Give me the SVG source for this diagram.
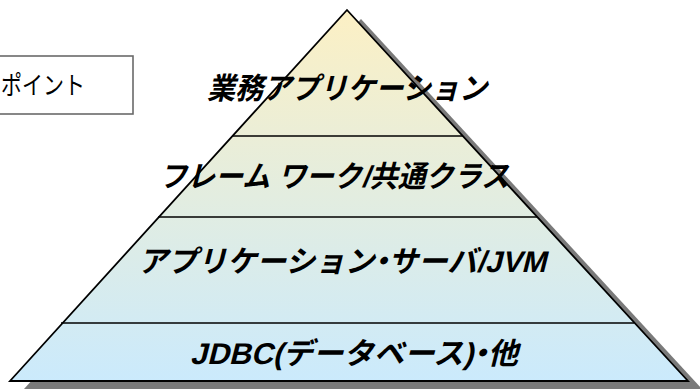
<svg xmlns="http://www.w3.org/2000/svg" width="700" height="389" viewBox="0 0 700 389">
  <defs>
    <linearGradient id="pyr" gradientUnits="userSpaceOnUse" x1="0" y1="10" x2="0" y2="381">
      <stop offset="0" stop-color="#FCF0C4"/>
      <stop offset="0.5" stop-color="#E3EDE0"/>
      <stop offset="1" stop-color="#CBEAFC"/>
    </linearGradient>
    <filter id="blur" x="-5%" y="-5%" width="110%" height="110%">
      <feGaussianBlur stdDeviation="0.7"/>
    </filter>
  </defs>
  <style>
    .lbl { font-family: "Liberation Sans", "Noto Sans CJK JP", sans-serif; font-weight: bold; font-size: 30px; fill: #000; }
    .pt { font-family: "Noto Sans CJK JP", sans-serif; font-size: 25px; fill: #000; }
    .band { stroke: #000; stroke-width: 1.6; fill: none; }
  </style>
  <rect width="700" height="389" fill="#fff"/>

  <g id="point-box">
    <rect x="-5" y="56" width="138" height="58" fill="#fff" stroke="#6a6a6a" stroke-width="1.6"/>
    <text class="pt" x="1" y="94" textLength="84" lengthAdjust="spacingAndGlyphs">ポイント</text>
  </g>

  <g id="pyramid">
    <polygon points="361,19 702,389 24,389" fill="#7a7a7a" filter="url(#blur)"/>
    <polygon points="347,10 688,381 10,381" fill="url(#pyr)" stroke="#000" stroke-width="1.8" stroke-linejoin="miter"/>
  </g>

  <g id="connectors">
    <line class="band" x1="232" y1="136" x2="463" y2="136"/>
    <line class="band" x1="158" y1="217" x2="537" y2="217"/>
    <line class="band" x1="61" y1="323" x2="634" y2="323"/>
  </g>

  <g id="layer-app" transform="translate(207,99) skewX(-14)">
    <text class="lbl" x="0" y="0" textLength="280" lengthAdjust="spacingAndGlyphs">業務アプリケーション</text>
  </g>
  <g id="layer-framework" transform="translate(159,187) skewX(-14)">
    <text class="lbl" x="0" y="0" textLength="350" lengthAdjust="spacingAndGlyphs">フレーム ワーク/共通クラス</text>
  </g>
  <g id="layer-appserver" transform="translate(138,272) skewX(-14)">
    <text class="lbl" x="0" y="0" textLength="408" lengthAdjust="spacingAndGlyphs">アプリケーション<tspan dx="-8">・</tspan><tspan dx="-8">サーバ/JVM</tspan></text>
  </g>
  <g id="layer-jdbc" transform="translate(190,364) skewX(-14)">
    <text class="lbl" x="0" y="0" textLength="328" lengthAdjust="spacingAndGlyphs">JDBC(データベース)<tspan dx="-8">・</tspan><tspan dx="-8">他</tspan></text>
  </g>
</svg>
